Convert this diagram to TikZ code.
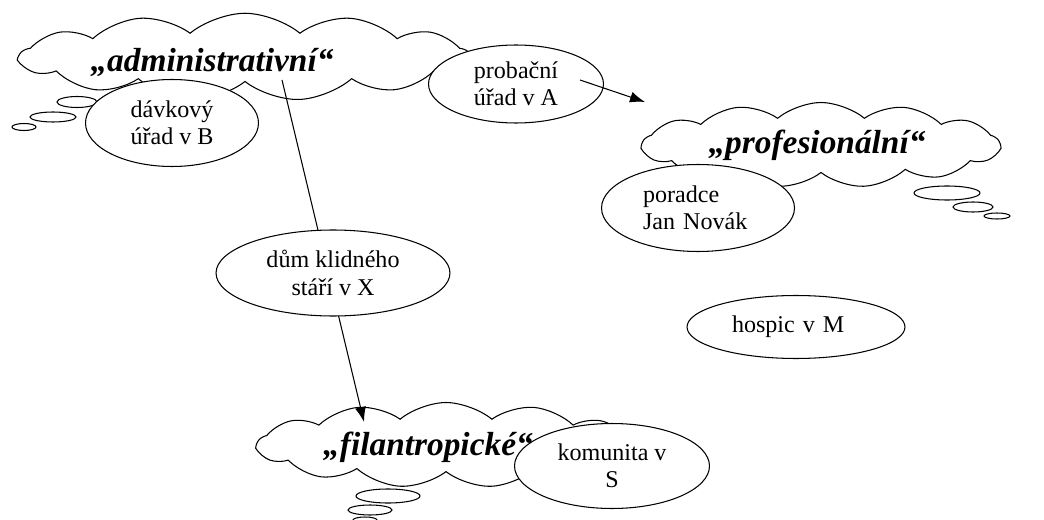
\documentclass[tikz,border=0pt]{standalone}
\usepackage{fontspec}
\setmainfont{Liberation Serif}
\usetikzlibrary{shapes.symbols,shapes.geometric,arrows.meta}

\begin{document}
\begin{tikzpicture}[x=0.02cm,y=-0.02cm,>={Latex[length=3mm,width=2.2mm]},line width=0.6pt,
    font=\fontsize{13.7}{15.5}\selectfont]
    \tikzset{
      mrak/.style={cloud, draw, fill=white, cloud puffs=13, cloud puff arc=80, cloud ignores aspect, inner sep=0pt},
      nazev/.style={font=\fontsize{19}{22}\selectfont\bfseries\itshape},
      oval/.style={ellipse, draw, fill=white, align=center, inner sep=0pt}
    }
    \useasboundingbox (0,0) rectangle (1044,520);
    % clouds
    \node[mrak, minimum width=9cm, minimum height=1.75cm] (admin) at (245,57) {};
    \node[mrak, minimum width=7.14cm, minimum height=1.7cm] (prof) at (821,145) {};
    \node[mrak, minimum width=7.54cm, minimum height=1.7cm] (filan) at (446,445) {};
    \node[nazev] (admintxt) at (212,62) {„administrativní“};
    \node[nazev] (proftxt) at (817,145) {„profesionální“};
    \node[nazev] (filantxt) at (428,447) {„filantropické“};
    % thought bubbles
    \foreach \x/\y/\rx/\ry in {77/102/20/5.5, 53/117/23/5, 24/127/12/3.5,
                               947/193/33/7, 973/207/20/5, 997/216/13/3,
                               388/496/32/7, 370/510/22/5, 365/520/12/3}
      \draw[fill=white] (\x,\y) ellipse [x radius=\rx*0.02cm, y radius=\ry*0.02cm];
    % arrows
    \coordinate (a1) at (282,80);
    \coordinate (a2) at (364,422);
    \coordinate (p1) at (580,80);
    \coordinate (p2) at (645,102);
    \draw[->] (a1) -- (a2);
    % organisations
    \node[oval, minimum width=3.46cm, minimum height=1.74cm] (davky) at (172,123) {dávkový\\úřad v B};
    \node[oval, minimum width=3.5cm, minimum height=1.56cm] (probace) at (516,84) {probační\\úřad v A};
    \node[oval, minimum width=4.68cm, minimum height=1.72cm] (dum) at (333,273) {dům klidného\\stáří v X};
    \node[oval, minimum width=3.86cm, minimum height=1.74cm, align=left, text width=2.2cm] (poradce) at (698,208) {poradce\\Jan Novák};
    \node[oval, minimum width=4.36cm, minimum height=1.26cm, align=left, text width=2.56cm] (hospic) at (796,327) {hospic v M};
    \node[oval, minimum width=3.9cm, minimum height=1.7cm] (komunita) at (612,466) {komunita v\\S};
    \draw[->] (p1) -- (p2);
\end{tikzpicture}
\end{document}
